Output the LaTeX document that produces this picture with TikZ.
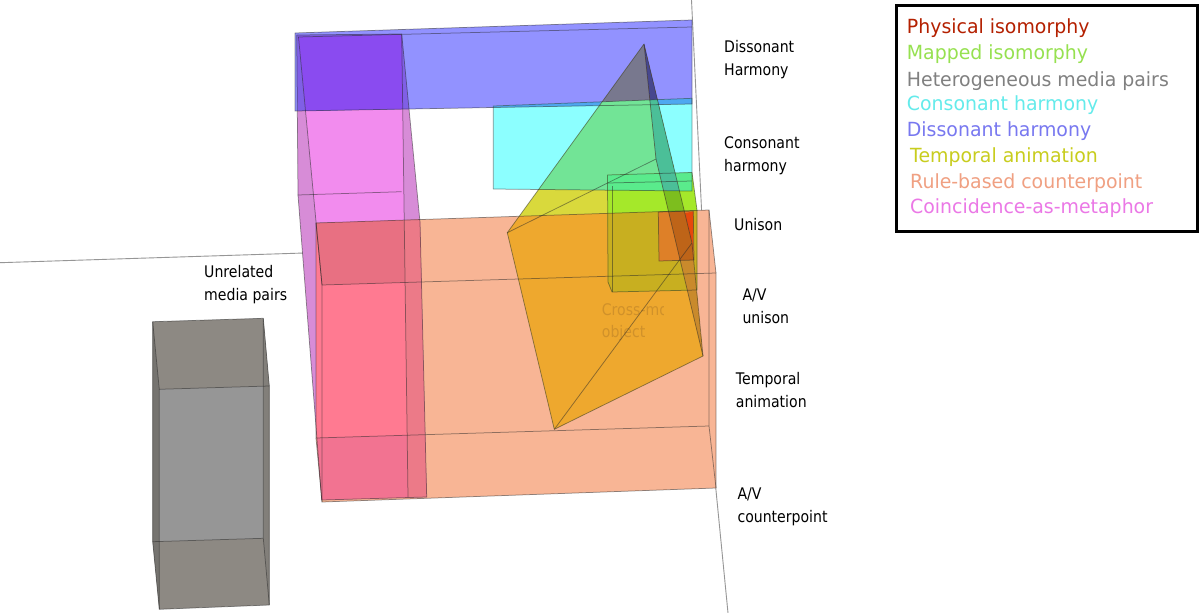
\documentclass[tikz,border=0pt]{standalone}
\usepackage{fontspec}
\setmainfont{DejaVu Sans}
\newfontfamily\lblfont[FakeStretch=0.88]{DejaVu Sans}
\newfontfamily\legfont[FakeStretch=0.97]{DejaVu Sans}
\definecolor{cAxis}{RGB}{150,150,150}
\definecolor{cEdge}{RGB}{40,40,40}
\definecolor{cGrayA}{RGB}{141,137,131}
\definecolor{cGrayL}{RGB}{118,116,112}
\definecolor{cGrayR}{RGB}{130,127,122}
\definecolor{cGrayM}{RGB}{150,150,150}
\definecolor{cOrange}{RGB}{248,181,149}
\definecolor{cLav}{RGB}{215,140,215}
\definecolor{cPink}{RGB}{242,140,238}
\definecolor{cRedTop}{RGB}{232,112,130}
\definecolor{cRedFront}{RGB}{255,122,145}
\definecolor{cRedBot}{RGB}{242,115,145}
\definecolor{cRedSide}{RGB}{236,122,136}
\definecolor{cBlue}{RGB}{146,146,255}
\definecolor{cPurple}{RGB}{138,75,240}
\definecolor{cPurpleS}{RGB}{128,95,230}
\definecolor{cCyan}{RGB}{140,255,255}
\definecolor{cTeal}{RGB}{78,168,240}
\definecolor{cYel}{RGB}{217,217,60}
\definecolor{cYelB}{RGB}{120,120,142}
\definecolor{cYelC}{RGB}{114,228,150}
\definecolor{cYelO}{RGB}{238,168,46}
\definecolor{cLime}{RGB}{165,232,42}
\definecolor{cGreenC}{RGB}{90,235,140}
\definecolor{cOlive}{RGB}{200,175,32}
\definecolor{cRedBox}{RGB}{222,128,40}
\definecolor{cRedBright}{RGB}{230,72,12}
\definecolor{cBandO}{RGB}{201,138,44}
\definecolor{cBandB}{RGB}{71,71,142}
\definecolor{cBandC}{RGB}{75,191,152}
\definecolor{cBandG}{RGB}{125,190,30}
\definecolor{cBandR}{RGB}{190,100,24}
\definecolor{cFaded}{RGB}{208,145,42}
\definecolor{lgRed}{RGB}{180,32,0}
\definecolor{lgGreen}{RGB}{150,225,80}
\definecolor{lgGray}{RGB}{128,128,128}
\definecolor{lgCyan}{RGB}{100,235,235}
\definecolor{lgBlue}{RGB}{120,120,240}
\definecolor{lgYel}{RGB}{200,205,30}
\definecolor{lgSalmon}{RGB}{240,160,130}
\definecolor{lgPink}{RGB}{235,120,230}
\def\Pblue{(295,33) -- (692,20) -- (692,104) -- (295,111) -- cycle}
\def\PmagL{(296.7,35) -- (401.7,34) -- (420,222) -- (426.7,497) -- (321.7,500) -- (298,195) -- cycle}
\def\Pmag{(298.5,37) -- (401.7,35) -- (404.3,222) -- (316.5,222) -- cycle}
\def\Pmagr{(401.7,34) -- (420,222) -- (426.7,497) -- (408,497) -- (401.7,35) -- cycle}
\def\Porange{(316,223) -- (709,210) -- (716,273) -- (716,488) -- (322,502) -- (316,438) -- cycle}
\def\Potop{(316,223) -- (709,210) -- (716,273) -- (322,285) -- cycle}
\def\Pobot{(316,438) -- (709,426) -- (716,488) -- (322,502) -- cycle}
\def\Pcyan{(493.3,106) -- (692,98.3) -- (692,191) -- (493.3,189) -- cycle}
\def\Pgreen{(607.5,175) -- (692,172.5) -- (697,210) -- (697,290) -- (612,292) -- (608,282) -- cycle}
\def\Pred{(658.3,212) -- (693.3,211) -- (694,260) -- (659,261) -- cycle}
\def\Ppyr{(644,44) -- (692,243) -- (703,356) -- (554.3,429.3) -- (507.3,232.7) -- cycle}
\def\Pband{(644,44) -- (692,243) -- (703,356) -- (656,159) -- cycle}
\begin{document}
\begin{tikzpicture}[x=1pt,y=-1pt,
  edge/.style={draw=cEdge, draw opacity=0.5, line width=0.75pt, line join=round},
  axisline/.style={draw=cAxis, line width=0.9pt},
  lbl/.style={font=\lblfont\fontsize{16}{23}\selectfont, align=left, inner sep=0pt, anchor=base west, text=black},
  leg/.style={font=\legfont\fontsize{19.5}{24}\selectfont, inner sep=0pt, anchor=base west}]
\useasboundingbox (0,0) rectangle (1200,613);
\fill[white] (0,0) rectangle (1200,613);
% axis lines
\coordinate (vt) at (691.5,0);
\coordinate (vm) at (714,470);
\coordinate (vb) at (728,613);
\coordinate (hl) at (0,262.7);
\coordinate (hr) at (712,240);
\draw[axisline] (vt) -- (vm) -- (vb);
\draw[axisline] (hl) -- (hr);
% heterogeneous media pairs (gray box)
\fill[cGrayA] (152.7,321.7) -- (263.3,318.3) -- (269.3,386) -- (269.3,605) -- (159.3,609.3) -- (152.7,541.7) -- cycle;
\fill[cGrayL] (152.7,321.7) -- (159.3,389.3) -- (159.3,609.3) -- (152.7,541.7) -- cycle;
\fill[cGrayR] (263.3,318.3) -- (269.3,386) -- (269.3,605) -- (263.3,538.3) -- cycle;
\fill[cGrayM] (159.3,389.3) -- (263.3,386.2) -- (263.3,538.3) -- (159.3,541.5) -- cycle;
% rule-based counterpoint (salmon box)
\fill[cOrange] \Porange;
% coincidence-as-metaphor (magenta box)
\fill[cLav] \PmagL;
\fill[cPink] \Pmag;
\begin{scope}
  \clip \PmagL;
  \fill[cRedFront] \Porange;
  \fill[cRedTop] \Potop;
  \fill[cRedBot] \Pobot;
\end{scope}
\begin{scope}
  \clip \Porange;
  \fill[cRedSide] \Pmagr;
\end{scope}
% dissonant harmony (blue box)
\fill[cBlue] \Pblue;
\begin{scope}
  \clip \Pblue;
  \fill[cPurpleS] \PmagL;
  \fill[cPurple] \Pmag;
\end{scope}
% consonant harmony (cyan box)
\fill[cCyan] \Pcyan;
\begin{scope}
  \clip \Pblue;
  \fill[cTeal] \Pcyan;
\end{scope}
% temporal animation (solid)
\begin{scope}
  \clip \Ppyr;
  \fill[cYel] \Ppyr;
  \fill[cYelB] \Pblue;
  \fill[cYelC] \Pcyan;
  \fill[cYelO] \Porange;
\end{scope}
% mapped isomorphy (green box)
\fill[cLime] \Pgreen;
\begin{scope}
  \clip \Pgreen;
  \fill[cGreenC] \Pcyan;
  \fill[cOlive] \Porange;
\end{scope}
% physical isomorphy (red box)
\fill[cRedBox] \Pred;
\fill[cRedBright] (685,213) -- (693.3,211.5) -- (692.5,255) -- cycle;
% dark side face of the solid
\begin{scope}
  \clip \Pband;
  \fill[cBandO] \Pband;
  \fill[cBandB] \Pblue;
  \fill[cBandC] \Pcyan;
  \fill[cBandG] (600,191) -- (700,191) -- (700,211) -- (600,214) -- cycle;
  \fill[cBandR] \Pred;
\end{scope}
% faded label inside the solid
\begin{scope}
  \clip (590,290) rectangle (663.5,350);
  \node[font=\lblfont\fontsize{16}{22}\selectfont, align=left, inner sep=0pt, anchor=base west, text=cFaded] (cm) at (601.7,337) {Cross-modal\\object};
\end{scope}
% edges
\draw[edge] \Pblue;
\draw[edge] (298,37) -- (692,27);
\draw[edge] \PmagL;
\draw[edge] (298.5,37) -- (322,285);
\draw[edge] (401.7,35) -- (408,497);
\draw[edge] (297.7,195) -- (401.7,191.7);
\draw[edge] (316,223) -- (709,210) -- (709,426) -- (316,438) -- cycle;
\draw[edge] (322,285) -- (716,273) -- (716,488) -- (322,502) -- cycle;
\draw[edge] (316,223) -- (322,285);
\draw[edge] (709,210) -- (716,273);
\draw[edge] (709,426) -- (716,488);
\draw[edge] (316,438) -- (322,502);
\draw[edge] (152.7,321.7) -- (263.3,318.3) -- (263.3,538.3) -- (152.7,541.7) -- cycle;
\draw[edge] (159.3,389.3) -- (269.3,386) -- (269.3,605) -- (159.3,609.3) -- cycle;
\draw[edge] (152.7,321.7) -- (159.3,389.3);
\draw[edge] (263.3,318.3) -- (269.3,386);
\draw[edge] (263.3,538.3) -- (269.3,605);
\draw[edge] (152.7,541.7) -- (159.3,609.3);
\draw[edge] \Pcyan;
\draw[edge] \Pgreen;
\draw[edge] (608,183) -- (692,181);
\draw[edge] (612,186) -- (612,292);
\draw[edge] \Pred;
\coordinate (pA) at (644,44);
\coordinate (pB) at (507.3,232.7);
\coordinate (pC) at (656,159);
\coordinate (pD) at (703,356);
\coordinate (pE) at (554.3,429.3);
\coordinate (pG) at (692,243);
\draw[edge] (pA) -- (pB) -- (pE) -- (pD) -- (pG) -- cycle;
\draw[edge] (pB) -- (pC) -- (pA);
\draw[edge] (pC) -- (pD);
\draw[edge] (pE) -- (pG);
% axis labels (anchor at baseline of last line)
\node[lbl] (l1) at (724,75) {Dissonant\\Harmony};
\node[lbl] (l2) at (724,171.4) {Consonant\\harmony};
\node[lbl] (l3) at (734,230.5) {Unison};
\node[lbl] (l4) at (742.3,323.8) {A/V\\unison};
\node[lbl] (l5) at (735.7,407.8) {Temporal\\animation};
\node[lbl] (l6) at (737.3,522.2) {A/V\\counterpoint};
\node[lbl] (l7) at (204,300.3) {Unrelated\\media pairs};
% legend
\node[draw=black, line width=3.2pt, inner sep=0pt, minimum width=301pt, minimum height=226pt, anchor=north west] (legbox) at (894.5,3.5) {};
\node[leg, text=lgRed] (g1) at (906.7,33.3) {Physical isomorphy};
\node[leg, text=lgGreen] (g2) at (906.7,59.3) {Mapped isomorphy};
\node[leg, text=lgGray] (g3) at (906.7,86) {Heterogeneous media pairs};
\node[leg, text=lgCyan] (g4) at (906.7,110.7) {Consonant harmony};
\node[leg, text=lgBlue] (g5) at (906.7,136.7) {Dissonant harmony};
\node[leg, text=lgYel] (g6) at (910,162.7) {Temporal animation};
\node[leg, text=lgSalmon] (g7) at (910,188.3) {Rule-based counterpoint};
\node[leg, text=lgPink] (g8) at (910,213.3) {Coincidence-as-metaphor};
\end{tikzpicture}
\end{document}
